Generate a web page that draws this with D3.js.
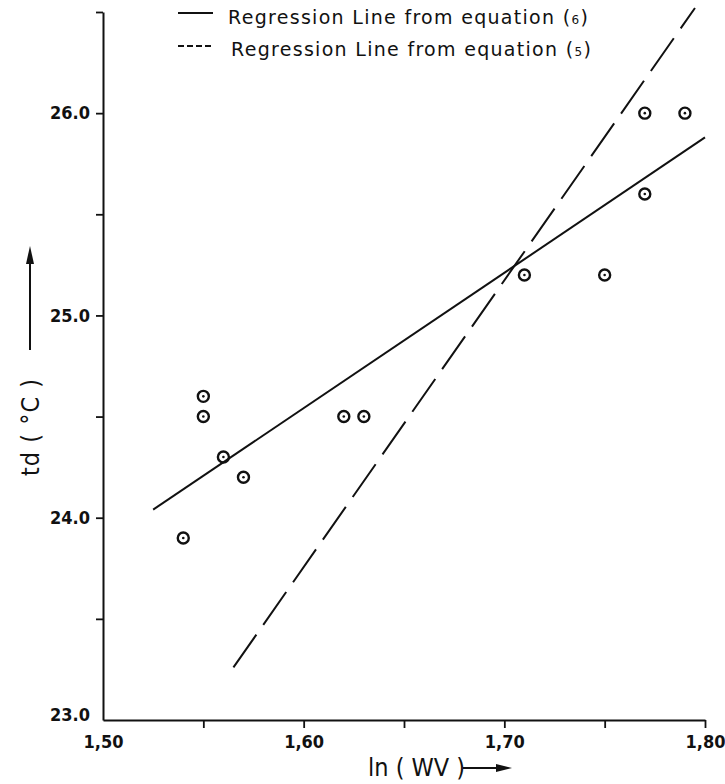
<!DOCTYPE html>
<html>
<head>
<meta charset="utf-8">
<script src="https://cdn.jsdelivr.net/npm/d3@7"></script>
<style>
  body { margin: 0; background: #fff; }
  svg { display: block; }
  text { font-family: "DejaVu Sans Condensed", "Liberation Sans Narrow", "DejaVu Sans", sans-serif; fill: #111; }
  .tick text { font-weight: bold; font-size: 18px; }
  .legend text { font-family: "DejaVu Sans", sans-serif; font-size: 19px; letter-spacing: 1.3px; }
  .title { font-size: 25px; }
</style>
</head>
<body>
<svg width="725" height="784"></svg>
<script>
// Observed points, ln(WV) against td (°C)
var lnWV = [1.54, 1.55, 1.55, 1.56, 1.57, 1.62, 1.63, 1.71, 1.75, 1.77, 1.77, 1.79];
var td   = [23.9, 24.5, 24.6, 24.3, 24.2, 24.5, 24.5, 25.2, 25.2, 25.6, 26.0, 26.0];

// Regression line ends
var eq6X = [1.525, 1.80];
var eq6Y = [24.04, 25.88];
var eq5X = [1.565, 1.795];
var eq5Y = [23.26, 26.52];

var xTicks = [1.50, 1.55, 1.60, 1.65, 1.70, 1.75, 1.80];
var yTicks = [23.0, 23.5, 24.0, 24.5, 25.0, 25.5, 26.0, 26.5];
var xLabels = {"1.5": "1,50", "1.6": "1,60", "1.7": "1,70", "1.8": "1,80"};
var yLabels = {"23": "23.0", "24": "24.0", "25": "25.0", "26": "26.0"};

var svg = d3.select("svg");

var x = d3.scaleLinear().domain([1.50, 1.80]).range([103, 705]);
var y = d3.scaleLinear().domain([23.0, 26.5]).range([720, 12]);

// Axes
var xAxis = d3.axisBottom(x)
	.tickValues(xTicks)
	.tickSize(8)
	.tickSizeOuter(0)
	.tickPadding(5)
	.tickFormat((d) => xLabels[String(+d.toFixed(2))] || "");

var yAxis = d3.axisLeft(y)
	.tickValues(yTicks)
	.tickSize(7)
	.tickSizeOuter(0)
	.tickPadding(6)
	.tickFormat((d) => yLabels[String(+d.toFixed(1))] || "");

var gx = svg.append("g")
	.attr("transform", "translate(0,720)")
	.call(xAxis);

var gy = svg.append("g")
	.attr("transform", "translate(103,0)")
	.call(yAxis);

[gx, gy].forEach((g) => {
	g.select(".domain").attr("stroke", "#111").attr("stroke-width", 2);
	g.selectAll(".tick line").attr("stroke", "#111").attr("stroke-width", 1.8);
});
// no tick at the corner
gx.selectAll(".tick").filter((d) => d == 1.5).select("line").remove();
gy.selectAll(".tick").filter((d) => d == 23).select("line").remove();
gy.selectAll(".tick").filter((d) => d == 23).select("text").attr("dy", "0.05em");
gx.selectAll(".tick text").attr("dy", "0.85em");

// Regression lines
var line = d3.line().x((d) => x(d[0])).y((d) => y(d[1]));

svg.append("path")
	.datum(d3.zip(eq6X, eq6Y))
	.attr("d", line)
	.attr("fill", "none")
	.attr("stroke", "#111")
	.attr("stroke-width", 2);

svg.append("path")
	.datum(d3.zip(eq5X, eq5Y))
	.attr("d", line)
	.attr("fill", "none")
	.attr("stroke", "#111")
	.attr("stroke-width", 2)
	.attr("stroke-dasharray", "40 12");

// Points: ring with a dot
var pts = svg.append("g")
	.selectAll("g")
	.data(d3.zip(lnWV, td))
	.enter().append("g")
	.attr("transform", (d) => "translate(" + x(d[0]) + "," + y(d[1]) + ")");

pts.append("circle")
	.attr("r", 5.5)
	.attr("fill", "none")
	.attr("stroke", "#111")
	.attr("stroke-width", 2.4);

pts.append("circle")
	.attr("r", 1.3)
	.attr("fill", "#111");

// Legend
var legend = svg.append("g").attr("class", "legend");
legend.append("line")
	.attr("x1", 178).attr("x2", 213).attr("y1", 13).attr("y2", 13)
	.attr("stroke", "#111").attr("stroke-width", 1.8);
legend.append("line")
	.attr("x1", 178).attr("x2", 214).attr("y1", 46).attr("y2", 46)
	.attr("stroke", "#111").attr("stroke-width", 1.8)
	.attr("stroke-dasharray", "6 3");

var l1 = legend.append("text").attr("x", 228).attr("y", 24);
l1.append("tspan").text("Regression Line from equation (");
l1.append("tspan").style("font-size", "12px").text("6");
l1.append("tspan").text(")");

var l2 = legend.append("text").attr("x", 231).attr("y", 56);
l2.append("tspan").text("Regression Line from equation  (");
l2.append("tspan").style("font-size", "12px").text("5");
l2.append("tspan").text(")");

// Axis titles with arrows
svg.append("text")
	.attr("class", "title")
	.attr("x", 368).attr("y", 776)
	.text("ln ( WV )");

svg.append("line")
	.attr("x1", 463).attr("x2", 497).attr("y1", 768).attr("y2", 768)
	.attr("stroke", "#111").attr("stroke-width", 2);
svg.append("path")
	.attr("d", "M496,764 L512,768 L496,772 Z")
	.attr("fill", "#111");

svg.append("text")
	.attr("class", "title")
	.attr("transform", "translate(39,476) rotate(-90)")
	.style("letter-spacing", "1px")
	.text("td  (  °C  )");

svg.append("line")
	.attr("x1", 30).attr("x2", 30).attr("y1", 350).attr("y2", 262)
	.attr("stroke", "#111").attr("stroke-width", 2);
svg.append("path")
	.attr("d", "M26,264 L30,246 L34,264 Z")
	.attr("fill", "#111");
</script>
</body>
</html>
